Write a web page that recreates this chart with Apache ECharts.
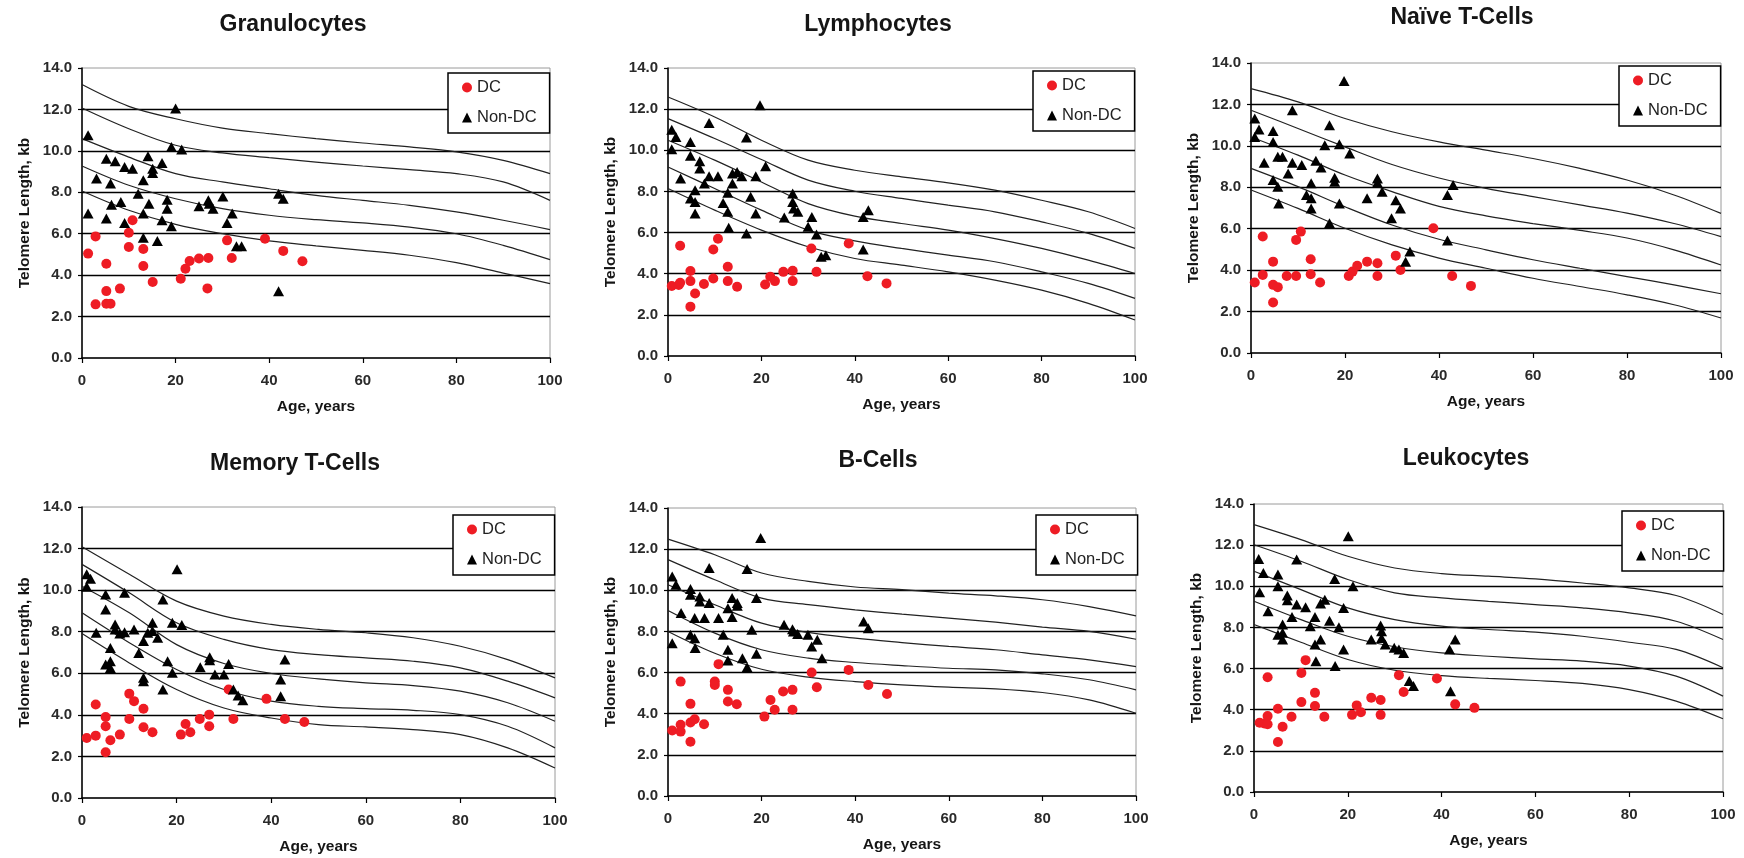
<!DOCTYPE html>
<html>
<head>
<meta charset="utf-8">
<script src="https://cdn.jsdelivr.net/npm/echarts@6/dist/echarts.min.js"></script>
<style>
  html, body { margin: 0; padding: 0; background: #fff; }
  #chart { width: 1744px; height: 858px; }
</style>
</head>
<body>
<div id="chart"></div>
<script>
var curveAges = [0, 10, 20, 30, 40, 50, 60, 70, 80, 90, 100];

// ---- Granulocytes
var granDC = [[1.3,5.04],[2.9,5.87],[2.9,2.59],[5.2,4.55],[5.2,3.23],[5.2,2.62],[6.1,2.62],[8.1,3.35],[10.0,5.36],[10.0,6.05],[10.8,6.65],[13.1,5.26],[13.1,4.44],[15.1,3.67],[21.1,3.83],[22.1,4.31],[23.0,4.68],[25.0,4.80],[27.0,4.83],[26.8,3.36],[31.0,5.68],[32.0,4.83],[39.1,5.76],[43.0,5.17],[47.1,4.67]];
var granNon = [[1.3,10.75],[1.3,6.97],[3.1,8.66],[5.2,9.62],[5.2,6.73],[6.1,8.42],[6.3,7.40],[7.1,9.50],[8.3,7.53],[9.1,9.22],[9.1,6.52],[10.8,9.14],[12.0,7.93],[13.1,8.58],[13.1,6.97],[13.1,5.81],[14.1,9.74],[14.3,7.45],[15.1,9.14],[15.1,8.93],[16.1,5.65],[17.1,9.41],[17.1,6.65],[18.2,7.64],[18.2,7.21],[19.1,6.36],[19.1,10.19],[20.0,12.04],[21.3,10.07],[25.0,7.32],[27.0,7.61],[27.2,7.45],[28.0,7.21],[30.1,7.80],[31.0,6.52],[32.1,6.97],[33.0,5.39],[34.1,5.39],[42.0,7.93],[43.0,7.69],[42.0,3.22]];
var granCurves = [
  [13.2, 12.15, 11.55, 11.1, 10.83, 10.59, 10.38, 10.19, 9.95, 9.54, 8.9],
  [12.07, 11.07, 10.27, 9.9, 9.67, 9.46, 9.27, 9.09, 8.9, 8.5, 7.61],
  [10.59, 9.7, 8.9, 8.5, 8.17, 7.85, 7.61, 7.37, 7.05, 6.65, 6.2],
  [9.27, 8.34, 7.69, 7.21, 6.89, 6.68, 6.52, 6.32, 6.0, 5.44, 4.75],
  [8.06, 7.13, 6.45, 6.0, 5.65, 5.41, 5.2, 4.96, 4.6, 4.1, 3.59]
];

// ---- Lymphocytes
var lymphDC = [[0.8,3.40],[2.3,3.45],[2.6,5.36],[2.6,3.56],[4.8,4.13],[4.8,3.64],[4.8,2.40],[5.8,3.04],[7.7,3.50],[9.7,3.77],[9.7,5.18],[10.7,5.70],[12.8,4.34],[12.8,3.64],[14.8,3.37],[20.8,3.48],[21.9,3.85],[22.9,3.64],[24.7,4.09],[26.7,4.14],[26.7,3.64],[30.7,5.23],[31.8,4.09],[38.7,5.47],[42.7,3.88],[46.8,3.53]];
var lymphNon = [[0.8,11.0],[0.8,10.05],[1.7,10.65],[2.7,8.63],[4.8,10.4],[4.8,9.73],[4.8,7.66],[5.8,8.06],[5.8,7.49],[5.8,6.93],[6.8,9.47],[6.8,9.11],[7.8,8.38],[8.8,8.74],[8.8,11.33],[10.7,8.74],[11.8,7.44],[12.8,7.93],[12.8,7.01],[13.0,6.23],[13.8,8.87],[13.8,8.38],[14.8,8.95],[15.8,8.74],[16.8,10.62],[16.8,5.96],[17.7,7.74],[18.8,8.74],[18.8,6.93],[19.7,12.19],[20.9,9.22],[24.9,6.73],[26.7,7.90],[26.7,7.49],[26.9,7.17],[27.8,7.01],[30.0,6.28],[30.8,6.76],[31.8,5.91],[32.8,4.82],[33.8,4.90],[41.8,6.76],[42.9,7.09],[41.8,5.18]];
var lymphCurves = [
  [12.59, 11.62, 10.49, 9.52, 9.03, 8.71, 8.42, 8.06, 7.57, 7.01, 6.2],
  [11.54, 10.57, 9.55, 8.55, 8.01, 7.66, 7.33, 7.01, 6.52, 5.96, 5.23],
  [10.49, 9.52, 8.46, 7.41, 6.8, 6.44, 6.12, 5.71, 5.23, 4.66, 4.01],
  [9.19, 8.14, 7.09, 6.12, 5.6, 5.23, 4.9, 4.58, 4.09, 3.53, 2.8],
  [8.14, 7.09, 6.12, 5.31, 4.74, 4.42, 4.09, 3.69, 3.2, 2.56, 1.75]
];

// ---- Naive T-cells
var naiveDC = [[0.8,3.40],[2.5,5.62],[2.5,3.77],[4.7,4.41],[4.7,3.29],[4.7,2.44],[5.7,3.18],[7.6,3.72],[9.6,3.72],[9.6,5.46],[10.6,5.86],[12.7,4.53],[12.7,3.80],[14.7,3.40],[20.8,3.72],[21.6,3.93],[22.6,4.21],[24.7,4.41],[26.9,4.33],[26.9,3.72],[30.8,4.70],[31.8,4.01],[38.8,6.02],[42.8,3.72],[46.8,3.24]];
var naiveNon = [[0.8,11.32],[0.8,10.43],[1.7,10.79],[2.8,9.18],[4.7,10.72],[4.7,10.19],[4.7,8.35],[5.7,9.47],[5.7,8.03],[5.9,7.22],[6.7,9.47],[7.9,8.67],[8.8,11.72],[8.8,9.18],[10.8,9.07],[11.8,7.63],[12.8,8.19],[12.8,7.47],[12.8,6.98],[13.8,9.28],[14.9,8.96],[15.7,10.03],[16.7,11.0],[16.7,6.26],[17.8,8.27],[17.8,8.46],[18.8,10.08],[18.8,7.22],[19.8,13.13],[21.0,9.63],[24.7,7.47],[26.9,8.43],[26.9,8.22],[27.9,7.79],[29.9,6.50],[30.8,7.38],[31.8,6.98],[32.9,4.41],[33.8,4.90],[41.8,7.63],[41.8,5.43],[43.0,8.11]];
var naiveCurves = [
  [12.76, 12.12, 11.32, 10.68, 10.19, 9.79, 9.39, 8.91, 8.35, 7.63, 6.74],
  [11.72, 10.84, 9.95, 9.1, 8.45, 7.95, 7.55, 7.15, 6.75, 6.25, 5.62],
  [10.43, 9.55, 8.59, 7.79, 7.08, 6.62, 6.25, 5.92, 5.55, 4.98, 4.25],
  [8.91, 8.03, 7.06, 6.18, 5.49, 4.98, 4.5, 4.09, 3.69, 3.29, 2.86],
  [7.87, 6.98, 6.02, 5.22, 4.58, 4.09, 3.61, 3.21, 2.81, 2.33, 1.69]
];

// ---- Memory T-cells
var memDC = [[1.0,2.89],[2.9,3.0],[2.9,4.50],[5.0,3.90],[5.0,3.45],[5.0,2.20],[6.0,2.78],[8.0,3.05],[10.0,3.80],[10.0,5.02],[11.0,4.66],[13.0,4.29],[13.0,3.40],[14.9,3.16],[20.9,3.05],[21.9,3.56],[22.9,3.16],[24.9,3.80],[26.9,4.01],[26.9,3.45],[31.0,5.22],[32.0,3.80],[39.0,4.77],[42.9,3.80],[47.0,3.66]];
var memNon = [[1.0,10.76],[1.0,10.16],[1.8,10.55],[3.0,7.95],[5.0,9.79],[5.0,9.07],[5.0,6.42],[6.0,7.22],[6.0,6.58],[6.0,6.26],[7.0,8.35],[7.0,8.11],[8.0,7.91],[9.0,9.87],[9.0,7.98],[11.0,8.11],[12.0,6.98],[13.0,5.78],[13.0,7.55],[13.0,5.62],[13.9,7.95],[14.9,8.43],[14.9,8.03],[16.0,7.71],[17.1,9.55],[17.1,5.22],[18.1,6.58],[19.1,8.43],[19.1,6.02],[20.1,11.0],[21.1,8.32],[25.0,6.29],[27.0,6.77],[27.0,6.63],[28.1,5.94],[30.0,5.94],[31.0,6.45],[32.0,5.22],[33.0,4.93],[34.0,4.70],[42.0,5.70],[42.0,4.90],[42.9,6.66]];
var memCurves = [
  [12.09, 10.76, 9.47, 8.75, 8.35, 8.11, 7.95, 7.71, 7.3, 6.66, 5.78],
  [11.24, 9.87, 8.43, 7.63, 7.14, 6.9, 6.74, 6.58, 6.26, 5.62, 4.82],
  [10.19, 8.91, 7.38, 6.47, 5.99, 5.73, 5.54, 5.41, 5.14, 4.58, 3.69],
  [8.91, 7.47, 6.18, 5.22, 4.66, 4.41, 4.30, 4.22, 4.01, 3.45, 2.41],
  [7.91, 6.5, 5.22, 4.33, 3.85, 3.53, 3.42, 3.29, 3.05, 2.41, 1.44]
];

// ---- B-cells
var bDC = [[0.9,3.18],[2.7,5.56],[2.7,3.46],[2.7,3.13],[4.8,4.48],[4.8,3.57],[4.8,2.64],[5.7,3.73],[7.7,3.49],[10.0,5.56],[10.0,5.40],[10.8,6.41],[12.8,5.16],[12.8,4.59],[14.7,4.46],[20.6,3.86],[21.9,4.67],[22.8,4.19],[24.6,5.08],[26.6,5.16],[26.6,4.19],[30.7,6.0],[31.8,5.29],[38.6,6.13],[42.8,5.40],[46.8,4.96]];
var bNon = [[0.9,10.67],[0.9,7.43],[1.7,10.27],[2.8,8.89],[4.8,10.06],[4.8,9.78],[4.8,7.84],[5.7,8.65],[5.7,7.67],[5.8,7.19],[6.8,9.70],[6.8,9.46],[7.8,8.65],[8.8,9.38],[8.8,11.08],[10.8,8.65],[11.8,7.84],[12.8,9.13],[12.8,7.11],[12.8,6.59],[13.7,9.62],[13.7,8.70],[14.8,9.38],[14.8,9.25],[15.9,6.70],[16.9,11.03],[16.9,6.26],[17.9,8.08],[18.9,9.62],[18.9,6.91],[19.8,12.54],[24.8,8.32],[26.6,8.11],[26.8,8.0],[27.7,7.88],[29.9,7.84],[30.7,7.27],[31.9,7.59],[32.9,6.70],[41.8,8.48],[42.8,8.16]];
var bCurves = [
  [12.49, 11.73, 10.84, 10.43, 10.16, 10.03, 9.86, 9.73, 9.54, 9.21, 8.76],
  [11.49, 10.51, 9.62, 9.3, 9.05, 8.84, 8.65, 8.45, 8.21, 8.0, 7.62],
  [10.27, 9.3, 8.4, 7.95, 7.67, 7.46, 7.27, 7.11, 6.86, 6.62, 6.29],
  [9.02, 7.92, 7.11, 6.70, 6.49, 6.34, 6.21, 6.13, 5.94, 5.65, 5.16],
  [8.0, 6.94, 6.16, 5.78, 5.56, 5.40, 5.29, 5.21, 5.03, 4.67, 4.02]
];

// ---- Leukocytes
var leukDC = [[1.2,3.37],[2.2,3.33],[2.9,5.58],[2.9,3.69],[2.9,3.29],[5.1,4.05],[5.1,2.43],[6.1,3.17],[8.0,3.66],[10.1,5.79],[10.1,4.37],[11.0,6.41],[13.0,4.82],[13.0,4.18],[15.0,3.66],[20.9,3.75],[21.9,4.21],[22.8,3.88],[25.0,4.58],[27.0,4.47],[27.0,3.75],[30.9,5.68],[31.9,4.86],[39.0,5.52],[42.9,4.26],[47.0,4.09]];
var leukNon = [[1.0,11.33],[1.2,9.71],[2.0,10.65],[3.0,8.79],[5.1,10.57],[5.1,10.0],[5.1,7.65],[6.1,8.14],[6.1,7.74],[6.1,7.41],[7.1,9.55],[7.1,9.32],[8.1,8.51],[9.1,9.11],[9.1,11.30],[11.0,8.98],[12.0,8.06],[13.0,8.51],[13.0,7.17],[13.2,6.36],[14.2,9.16],[14.2,7.41],[15.1,9.35],[16.1,8.33],[17.2,10.36],[17.3,6.12],[18.1,8.01],[19.1,8.95],[19.1,6.93],[20.1,12.43],[21.1,10.0],[25.0,7.41],[27.0,8.09],[27.2,7.82],[27.2,7.49],[28.0,7.17],[29.9,7.01],[30.9,6.93],[31.9,6.76],[33.1,5.39],[34.0,5.15],[41.7,6.93],[42.9,7.41],[41.9,4.90]];
var leukCurves = [
  [13.0, 12.27, 11.46, 10.89, 10.62, 10.49, 10.36, 10.16, 9.92, 9.55, 8.63],
  [12.02, 11.22, 10.33, 9.68, 9.44, 9.27, 9.11, 8.95, 8.71, 8.3, 7.41],
  [10.73, 9.84, 8.95, 8.38, 8.06, 7.9, 7.77, 7.57, 7.28, 6.93, 6.04],
  [9.27, 8.38, 7.57, 7.06, 6.76, 6.6, 6.47, 6.36, 6.12, 5.63, 4.66],
  [8.14, 7.28, 6.44, 5.92, 5.66, 5.52, 5.42, 5.28, 4.98, 4.42, 3.56]
];

var seriesNames = ['DC', 'Non-DC'];

// layout: grid [left, top, width, height], title [centerX, top], legend [left, top]
var panels = [
  { title: 'Granulocytes',   dc: granDC,  non: granNon,  curves: granCurves,  grid: [82, 68, 468, 290],   titlePos: [288, 8],    legendPos: [448, 73] },
  { title: 'Lymphocytes',    dc: lymphDC, non: lymphNon, curves: lymphCurves, grid: [668, 68, 467, 288],  titlePos: [873, 8],    legendPos: [1033, 71] },
  { title: 'Naïve T-Cells',  dc: naiveDC, non: naiveNon, curves: naiveCurves, grid: [1251, 63, 470, 290], titlePos: [1457, 1],   legendPos: [1619, 66] },
  { title: 'Memory T-Cells', dc: memDC,   non: memNon,   curves: memCurves,   grid: [82, 507, 473, 291],  titlePos: [290, 447],  legendPos: [453, 515] },
  { title: 'B-Cells',        dc: bDC,     non: bNon,     curves: bCurves,     grid: [668, 508, 468, 288], titlePos: [873, 444],  legendPos: [1036, 515] },
  { title: 'Leukocytes',     dc: leukDC,  non: leukNon,  curves: leukCurves,  grid: [1254, 504, 469, 288], titlePos: [1461, 442], legendPos: [1622, 511] }
];

var FONT = 'Liberation Sans, Arial, sans-serif';

var option = {
  animation: false,
  backgroundColor: '#fff',
  textStyle: { fontFamily: FONT },
  title: [], legend: [], grid: [], xAxis: [], yAxis: [], series: []
};

panels.forEach(function (p, i) {
  option.grid.push({
    left: p.grid[0], top: p.grid[1], width: p.grid[2], height: p.grid[3],
    show: true, borderColor: '#9a9a9a', borderWidth: 1, backgroundColor: 'transparent'
  });
  option.title.push({
    text: p.title, left: p.titlePos[0], top: p.titlePos[1], textAlign: 'center',
    textStyle: { fontFamily: FONT, fontSize: 23, fontWeight: 'bold', color: '#151515' }
  });
  option.legend.push({
    left: p.legendPos[0], top: p.legendPos[1], orient: 'vertical',
    data: [{ name: 'DC', icon: 'circle' }, { name: 'Non-DC', icon: 'triangle' }],
    itemWidth: 10, itemHeight: 10, itemGap: 13, padding: [6, 13, 7, 14],
    borderColor: '#000', borderWidth: 1.5, backgroundColor: '#fff',
    selectedMode: false,
    textStyle: { fontFamily: FONT, fontSize: 16.5, color: '#222' }
  });
  option.xAxis.push({
    gridIndex: i, type: 'value', min: 0, max: 100, interval: 20,
    name: 'Age, years', nameLocation: 'middle', nameGap: 41,
    nameTextStyle: { fontFamily: FONT, fontSize: 15.5, fontWeight: 'bold', color: '#151515' },
    axisLine: { show: true, onZero: false, lineStyle: { color: '#000', width: 1.5 } },
    axisTick: { show: true, length: 5, lineStyle: { color: '#000', width: 1.2 } },
    axisLabel: { margin: 15, fontSize: 15, fontWeight: 'bold', color: '#2a2a2a', fontFamily: FONT },
    splitLine: { show: false }
  });
  option.yAxis.push({
    gridIndex: i, type: 'value', min: 0, max: 14, interval: 2,
    name: 'Telomere Length, kb', nameLocation: 'middle', nameGap: 49,
    nameTextStyle: { fontFamily: FONT, fontSize: 15.5, fontWeight: 'bold', color: '#151515' },
    axisLine: { show: true, onZero: false, lineStyle: { color: '#000', width: 1.5 } },
    axisTick: { show: true, length: 4, lineStyle: { color: '#000', width: 1.2 } },
    axisLabel: {
      margin: 10, fontSize: 15, fontWeight: 'bold', color: '#2a2a2a', fontFamily: FONT,
      formatter: function (v) { return v.toFixed(1); }
    },
    splitLine: { show: true, showMinLine: false, showMaxLine: false, lineStyle: { color: '#000', width: 1.3 } }
  });

  p.curves.forEach(function (c) {
    option.series.push({
      type: 'line', xAxisIndex: i, yAxisIndex: i, silent: true,
      data: curveAges.map(function (a, k) { return [a, c[k]]; }),
      symbol: 'none', smooth: 0.35, z: 1,
      lineStyle: { color: '#222', width: 1.2 }
    });
  });

  option.series.push({
    name: seriesNames[0], type: 'scatter', xAxisIndex: i, yAxisIndex: i, z: 3,
    data: p.dc, symbol: 'circle', symbolSize: 10,
    itemStyle: { color: '#ee1c24', opacity: 1 }
  });
  option.series.push({
    name: seriesNames[1], type: 'scatter', xAxisIndex: i, yAxisIndex: i, z: 3,
    data: p.non, symbol: 'triangle', symbolSize: [11, 10],
    itemStyle: { color: '#000', opacity: 1 }
  });
});

var chart = echarts.init(document.getElementById('chart'), null, { renderer: 'canvas' });
chart.setOption(option);
</script>
</body>
</html>
